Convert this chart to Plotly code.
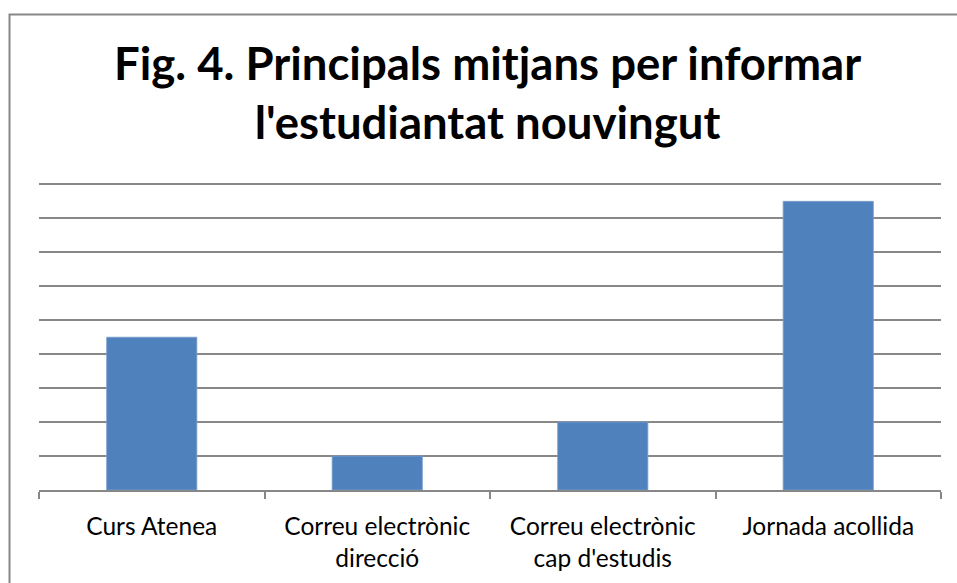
import plotly.graph_objects as go

categories = ["Curs Atenea", "Correu electrònic<br>direcció", "Correu electrònic<br>cap d'estudis", "Jornada acollida"]
values = [4.5, 1, 2, 8.5]
title_text = "Fig. 4. Principals mitjans per informar<br>l'estudiantat nouvingut"

W, H = 957, 583
L, R, B = 39, 941, 490
UNIT = 34.0          # pixels per y unit
YMAX = 9.1
T = B - UNIT * YMAX


def px(xp):
    return (xp - L) / (R - L)


def py(yp):
    return (B - yp) / (B - T)


fig = go.Figure(go.Bar(
    x=categories, y=values,
    marker=dict(color="#4F81BD", line=dict(color="#7BA0CD", width=0.8)),
    hoverinfo="skip",
))

fig.update_layout(
    width=W, height=H,
    margin=dict(l=L, r=W - R, t=T, b=H - B),
    paper_bgcolor="white", plot_bgcolor="white",
    bargap=0.6, showlegend=False,
    font=dict(family="Lato, Calibri, sans-serif", color="#000000"),
    annotations=[dict(
        text="<b>" + title_text.replace("<br>", "</b><br><b>") + "</b>",
        xref="paper", yref="paper",
        x=px(487.5), y=py(32), xanchor="center", yanchor="top",
        showarrow=False, font=dict(size=45.5, family="Lato, sans-serif", color="#000000"),
    )],
    shapes=[dict(
        type="rect", xref="paper", yref="paper",
        x0=px(9.5), x1=px(980), y0=py(14), y1=py(620),
        line=dict(color="#878787", width=2), fillcolor="rgba(0,0,0,0)", layer="below",
    )],
)

fig.update_xaxes(
    showline=True, linecolor="#878787", linewidth=1.5,
    ticks="outside", tickson="boundaries", ticklen=7, tickcolor="#878787", tickwidth=1.5,
    tickfont=dict(size=24.5, color="#000000"), showgrid=False, ticklabelstandoff=14,
)
fig.update_yaxes(
    range=[0, YMAX], dtick=1, showgrid=True, gridcolor="#888888", gridwidth=1.5,
    showticklabels=False, zeroline=False, ticks="",
)

fig.write_html(
    "out.html",
    config={"displayModeBar": False},
    post_script="document.body.style.margin='0';document.body.style.overflow='hidden';",
)
